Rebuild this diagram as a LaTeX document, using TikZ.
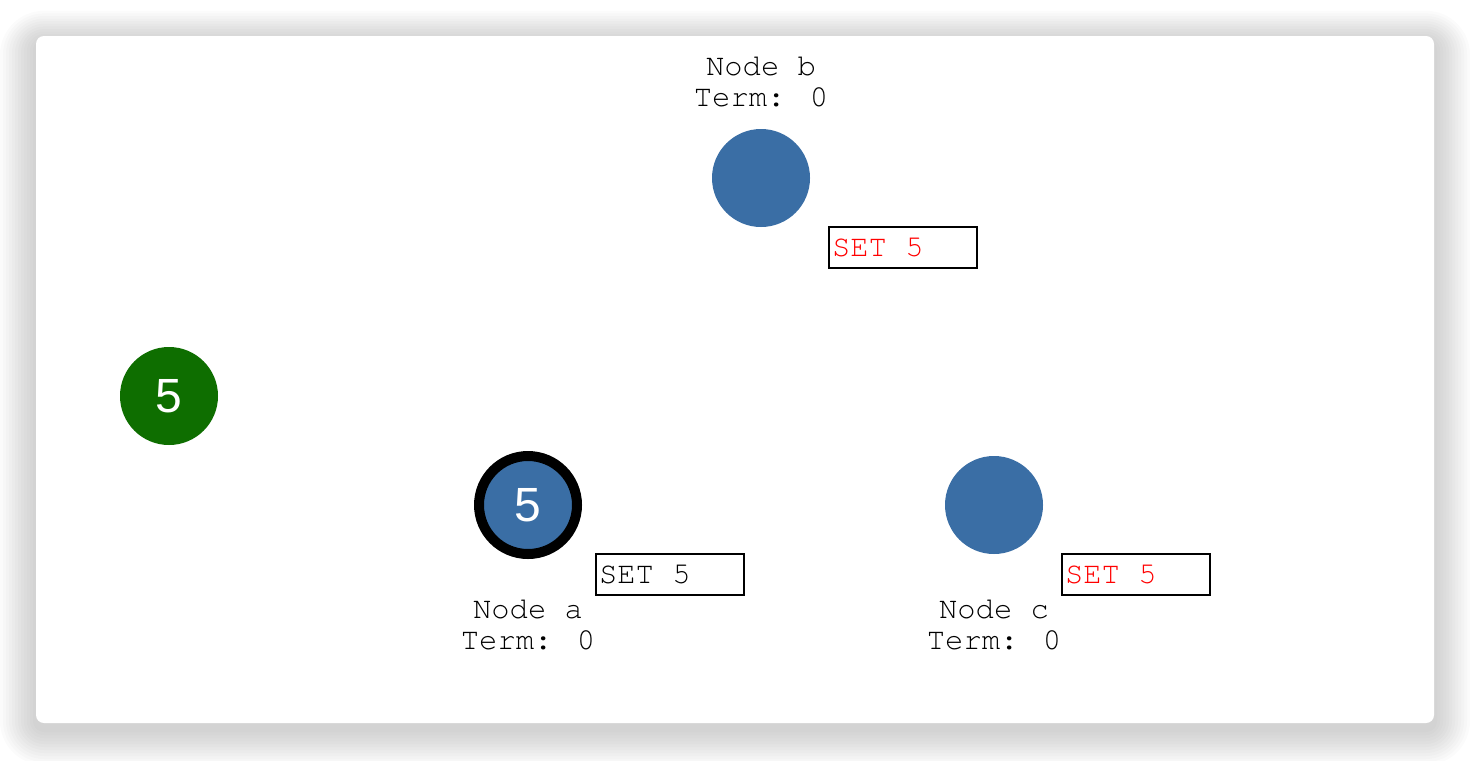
\documentclass[tikz,border=0pt]{standalone}
\usepackage{fontspec}
\setsansfont{Liberation Sans}
\newfontfamily\cursorfont{TeX Gyre Cursor}
\usetikzlibrary{positioning,calc}

\definecolor{peerblue}{RGB}{58,110,165}
\definecolor{clientgreen}{RGB}{14,110,0}
\definecolor{msgred}{RGB}{255,0,0}

\begin{document}
\begin{tikzpicture}[x=0.5pt, y=-0.5pt,
peer/.style={circle,fill=peerblue,minimum size=49pt,inner sep=0pt,text=white,
	font=\sffamily\fontsize{24}{24}\selectfont},
leader/.style={peer,draw=black,line width=5pt},
client/.style={peer,fill=clientgreen},
msg/.style={draw=black,line width=1.1pt,fill=white,anchor=north west,minimum width=74pt,
	minimum height=20.5pt,inner xsep=1pt,inner ysep=0pt,
	font=\cursorfont\fontsize{15.25}{15.25}\selectfont},
info/.style={align=center,inner sep=0pt,font=\cursorfont\fontsize{15.25}{15.5}\selectfont}]

\useasboundingbox (0,0) rectangle (1470,760);

% card and its shadow
\foreach \s [evaluate=\s as \r using 4+1.5*\s] in {1,...,12}
	\fill[black,opacity=0.016,rounded corners=\r pt] ({36-3*\s},{42-2.6*\s}) rectangle ({1434+3*\s},{729+3*\s});
\fill[white,rounded corners=4pt] (36,36) rectangle (1434,723);

% client and peers
\node[client] (cl) at (169,396) {5};
\node[peer] (b) at (761,178) {};
\node[leader] (a) at (528,505) {5};
\node[peer] (c) at (994,505) {};

% messages
\foreach \n/\col in {a/black,b/msgred,c/msgred}
	\node[msg,text=\col] (m\n) at ($(\n)+(67,48)$) {\makebox[71pt][l]{SET 5}};

% captions
\node[info,above=35.5pt of b.center] (lb) {Node b\\Term: 0};
\foreach \n in {a,c}
	\node[info,below=47.5pt of \n.center] (l\n) {Node \n\\Term: 0};
\end{tikzpicture}
\end{document}
